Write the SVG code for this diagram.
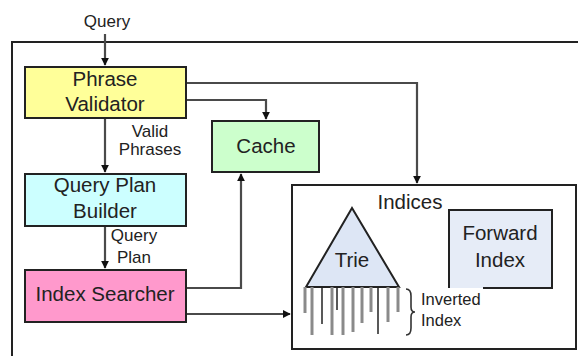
<svg xmlns="http://www.w3.org/2000/svg" width="578" height="356" viewBox="0 0 578 356">
<style>
text{font-family:"Liberation Sans",Arial,sans-serif;fill:#222;text-anchor:middle}
.big{font-size:20.5px}
.lbl{font-size:17px}
.sm{font-size:16.5px;text-anchor:start}
.box{stroke:#222;stroke-width:2}
.con{fill:none;stroke:#4a4a4a;stroke-width:2.2}
.g{stroke:#8a8a8a;stroke-width:3}
.d{stroke:#222;stroke-width:1.5}
</style>
<defs>
<marker id="ah" viewBox="0 0 10 10" refX="9" refY="5" markerWidth="8" markerHeight="8" markerUnits="userSpaceOnUse" orient="auto">
<path d="M0,0 L10,5 L0,10 Z" fill="#111"/>
</marker>
</defs>
<rect x="12" y="42" width="620" height="400" fill="none" stroke="#222" stroke-width="2"/>
<text class="lbl" x="107" y="27">Query</text>
<g id="connectors">
<path class="con" d="M105,34 V65" marker-end="url(#ah)"/>
<path class="con" d="M105,118 V172" marker-end="url(#ah)"/>
<path class="con" d="M105,226 V268" marker-end="url(#ah)"/>
<path class="con" d="M186,100 H266 V119" marker-end="url(#ah)"/>
<path class="con" d="M186,83 H417 V183" marker-end="url(#ah)"/>
<path class="con" d="M186,288 H241 V174" marker-end="url(#ah)"/>
<path class="con" d="M186,314 H290" marker-end="url(#ah)"/>
<text class="lbl" x="150" y="137">Valid</text>
<text class="lbl" x="150" y="155">Phrases</text>
<text class="lbl" x="134" y="241">Query</text>
<text class="lbl" x="134" y="263">Plan</text>
</g>
<g id="phrase-validator">
<rect class="box" x="25" y="67" width="161" height="51" fill="#ffff99"/>
<text class="big" x="105" y="86">Phrase</text>
<text class="big" x="105" y="111">Validator</text>
</g>
<g id="query-plan-builder">
<rect class="box" x="25" y="174" width="161" height="52" fill="#ccffff"/>
<text class="big" x="105" y="192">Query Plan</text>
<text class="big" x="105" y="218">Builder</text>
</g>
<g id="index-searcher">
<rect class="box" x="25" y="270" width="161" height="52" fill="#ff99cc"/>
<text class="big" x="105" y="301">Index Searcher</text>
</g>
<g id="cache">
<rect class="box" x="212" y="121" width="107" height="51" fill="#ccffcc"/>
<text class="big" x="266" y="153">Cache</text>
</g>
<g id="indices">
<rect class="box" x="292" y="185" width="284" height="164" fill="#fff"/>
<text class="big" x="410" y="209">Indices</text>
</g>
<g id="trie">
<polygon points="352,208 306,287 399,287" fill="#dde6f5" stroke="#222" stroke-width="2"/>
<text class="big" x="352" y="267">Trie</text>
</g>
<g id="inverted-index">
<line class="g" x1="305" y1="287" x2="305" y2="313"/>
<line class="g" x1="312" y1="287" x2="312" y2="335"/>
<line class="d" x1="322" y1="287" x2="322" y2="324"/>
<line class="g" x1="332" y1="287" x2="332" y2="335"/>
<line class="d" x1="337" y1="287" x2="337" y2="310"/>
<line class="g" x1="343" y1="287" x2="343" y2="335"/>
<line class="g" x1="353" y1="287" x2="353" y2="332"/>
<line class="g" x1="362" y1="287" x2="362" y2="323"/>
<line class="g" x1="371" y1="287" x2="371" y2="312"/>
<line class="d" x1="378" y1="287" x2="378" y2="334"/>
<line class="g" x1="388" y1="287" x2="388" y2="322"/>
<line class="g" x1="398" y1="287" x2="398" y2="312"/>
<path d="M406,289 Q411,289 411,296 V307 Q411,312 415,312 Q411,312 411,317 V328 Q411,335 406,335" fill="none" stroke="#333" stroke-width="1.6"/>
<text class="sm" x="421" y="305">Inverted</text>
<text class="sm" x="421" y="326">Index</text>
</g>
<g id="forward-index">
<rect x="449" y="210" width="103" height="78" fill="#e6ecf7"/>
<path d="M483,288 H552 V210 H449 V288" fill="none" stroke="#222" stroke-width="2"/>
<text class="big" x="500" y="240">Forward</text>
<text class="big" x="500" y="267">Index</text>
</g>
</svg>
